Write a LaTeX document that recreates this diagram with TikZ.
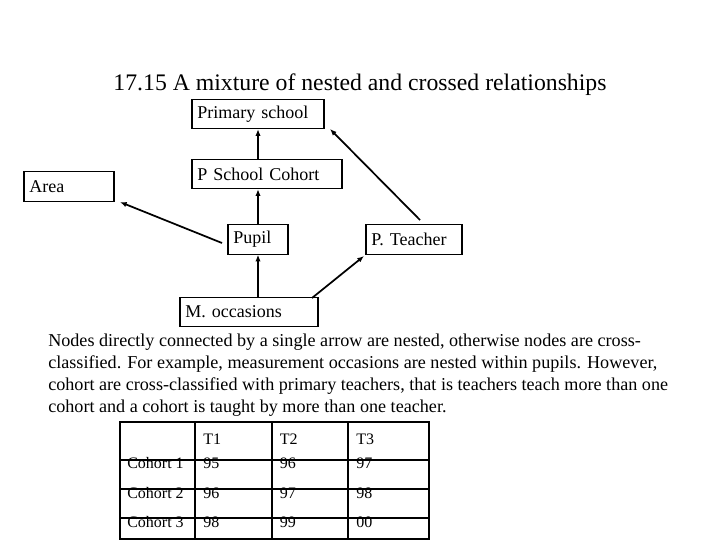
\documentclass[tikz,border=0pt]{standalone}
\usepackage{fontspec}
\setmainfont{Liberation Serif}
\usetikzlibrary{arrows.meta}
\tikzset{
  box/.style={draw, line width=0.8pt, minimum height=22pt, inner ysep=0pt, inner xsep=4pt,
    align=left, font=\fontsize{13.5}{15}\selectfont},
  link/.style={-{Latex[length=5pt,width=4pt]}, line width=1.3pt},
  line/.style={anchor=west, font=\fontsize{13.6}{15}\selectfont, inner sep=0pt},
  cell/.style={anchor=west, font=\fontsize{12}{14}\selectfont, inner sep=0pt}
}
\begin{document}
\begin{tikzpicture}[x=0.75pt, y=-0.75pt]
\useasboundingbox (0,0) rectangle (720,540);
\node (title) at (360,85) {\fontsize{17.8}{20}\selectfont 17.15 A mixture of nested and crossed relationships};
%
\node[box, text width=91pt] (school) at (258,114) {Primary school};
\node[box, text width=104.5pt] (cohort) at (267,174) {P School Cohort};
\node[box, text width=59.5pt] (area) at (69,186.5) {Area};
\node[box, text width=37pt] (pupil) at (258,239.5) {Pupil};
\node[box, text width=64pt] (teacher) at (414,239.5) {P. Teacher};
\node[box, text width=95.5pt] (occ) at (249,312) {M. occasions};
%
\coordinate (c1) at (258,297);
\coordinate (c2) at (312,298);
\coordinate (c3) at (222,243);
\coordinate (c4) at (420,220);
\draw[link] (c1) -- (c1 |- pupil.south);
\draw[link] (pupil.north) -- (pupil.north |- cohort.south);
\draw[link] (pupil.north |- cohort.north) -- (pupil.north |- school.south);
\draw[link] (c3) -- (120,202);
\draw[link] (c2) -- (364,256);
\draw[link] (c4) -- (330,129);
%
\node[line] (t1) at (48,342) {Nodes directly connected by a single arrow are nested, otherwise nodes are cross-};
\node[line] (t2) at (48,364) {classified. For example, measurement occasions are nested within pupils. However,};
\node[line] (t3) at (48,386) {cohort are cross-classified with primary teachers, that is teachers teach more than one};
\node[line] (t4) at (48,408) {cohort and a cohort is taught by more than one teacher.};
%
\draw[line width=1.6pt] (120,422) rectangle (429,539);
\foreach \x in {195,272,348}
  \draw[line width=1pt] (\x,422) -- (\x,539);
\foreach \y in {460,489,518}
  \draw[line width=1pt] (120,\y) -- (429,\y);
\foreach \txt [count=\i] in {T1,T2,T3}
  \node[cell] (h\i) at ({195+(\i-1)*76.5+8},439) {\txt};
\foreach \row/\a/\b/\c/\y in {Cohort 1/95/96/97/463, Cohort 2/96/97/98/493, Cohort 3/98/99/00/522}{
  \node[cell] (r\y) at (127,\y) {\row};
  \node[cell] (r\y a) at (203,\y) {\a};
  \node[cell] (r\y b) at (279.5,\y) {\b};
  \node[cell] (r\y c) at (356,\y) {\c};
}
\end{tikzpicture}
\end{document}
